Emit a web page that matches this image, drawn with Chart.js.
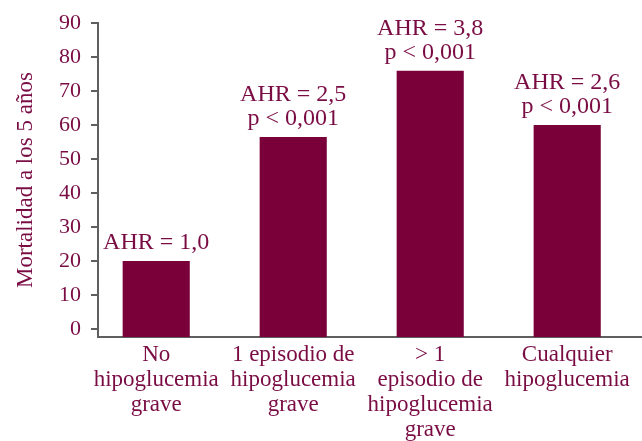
<!DOCTYPE html>
<html>
<head>
<meta charset="utf-8">
<script src="https://cdn.jsdelivr.net/npm/chart.js@4/dist/chart.umd.min.js"></script>
<style>
  html, body { margin: 0; padding: 0; background: #fff; }
  #wrap { width: 642px; height: 441px; position: relative; }
</style>
</head>
<body>
<div id="wrap"><canvas id="chart"></canvas></div>
<script>
// data
const categories = [
  ["No", "hipoglucemia", "grave"],
  ["1 episodio de", "hipoglucemia", "grave"],
  ["> 1", "episodio de", "hipoglucemia", "grave"],
  ["Cualquier", "hipoglucemia"]
];
const mortalidad = [20, 56.5, 76, 60];
const annotations = [
  ["AHR = 1,0"],
  ["AHR = 2,5", "p < 0,001"],
  ["AHR = 3,8", "p < 0,001"],
  ["AHR = 2,6", "p < 0,001"]
];
const yTicks = [0, 10, 20, 30, 40, 50, 60, 70, 80, 90];
const yTitle = "Mortalidad a los 5 años";

const MAROON = "#7a003a";
const TEXT = "#7a0c44";
const AXIS = "#5f5f5f";
const FONT = "'Liberation Serif', 'Times New Roman', serif";

const annotationPlugin = {
  id: "annotations",
  afterDatasetsDraw(chart) {
    const ctx = chart.ctx;
    const meta = chart.getDatasetMeta(0);
    ctx.save();
    ctx.font = "24px " + FONT;
    ctx.fillStyle = TEXT;
    ctx.textAlign = "center";
    ctx.textBaseline = "alphabetic";
    meta.data.forEach((bar, i) => {
      const lines = annotations[i] || [];
      const lineH = 24;
      lines.forEach((txt, j) => {
        const y = bar.y - 12 - (lines.length - 1 - j) * lineH;
        ctx.fillText(txt, bar.x, y);
      });
    });
    ctx.restore();
  }
};

new Chart(document.getElementById("chart"), {
  type: "bar",
  data: {
    datasets: [{
      data: mortalidad.map((v, i) => ({ x: i, y: v })),
      backgroundColor: MAROON,
      borderWidth: 0,
      base: -2.4,
      categoryPercentage: 1,
      barPercentage: 0.49
    }]
  },
  options: {
    responsive: true,
    maintainAspectRatio: false,
    animation: false,
    layout: { padding: { top: 22, right: 0, left: 0, bottom: 0 } },
    plugins: {
      legend: { display: false },
      tooltip: { enabled: false }
    },
    scales: {
      x: {
        type: "linear",
        offset: false,
        min: -0.425,
        max: 3.546,
        afterBuildTicks: (scale) => { scale.ticks = categories.map((c, i) => ({ value: i })); },
        afterFit: (scale) => { scale.height = 104; },
        grid: { display: false, drawTicks: false },
        border: { display: true, color: AXIS, width: 2 },
        ticks: {
          autoSkip: false,
          maxRotation: 0,
          padding: 5,
          color: TEXT,
          font: { family: FONT, size: 23, lineHeight: 25 / 23 },
          callback: (v) => categories[v]
        }
      },
      y: {
        min: -2.4,
        max: 90,
        afterBuildTicks: (scale) => { scale.ticks = yTicks.map((v) => ({ value: v })); },
        afterFit: (scale) => { scale.width = 98; },
        grid: { drawOnChartArea: false, drawTicks: true, tickLength: 7, color: AXIS, lineWidth: 2 },
        border: { display: true, color: AXIS, width: 2 },
        ticks: {
          padding: 10,
          color: TEXT,
          font: { family: FONT, size: 22 }
        },
        title: {
          display: true,
          text: yTitle,
          color: TEXT,
          font: { family: FONT, size: 23 },
          padding: { top: 12, bottom: 0 }
        }
      }
    }
  },
  plugins: [annotationPlugin]
});
</script>
</body>
</html>
